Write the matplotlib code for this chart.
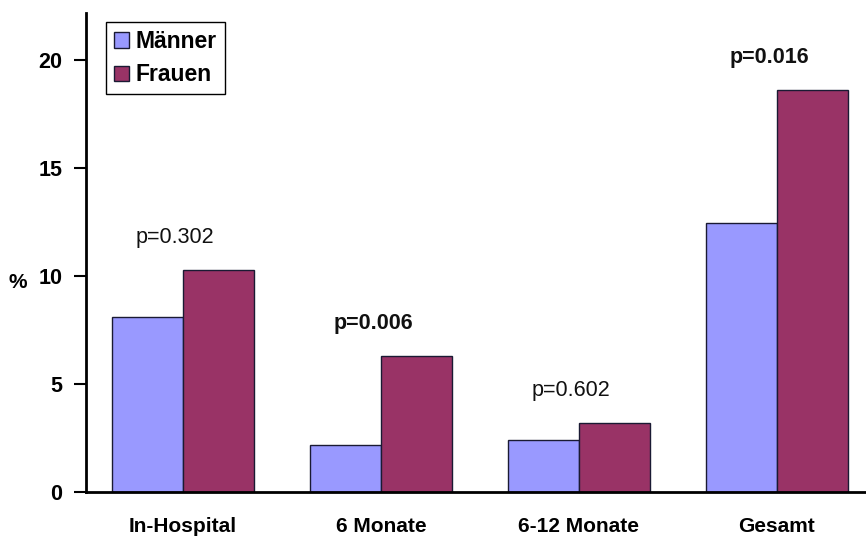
import matplotlib
matplotlib.use("Agg")
import matplotlib.pyplot as plt
import numpy as np

categories = ["In-Hospital", "6 Monate", "6-12 Monate", "Gesamt"]
maenner = [8.1, 2.2, 2.4, 12.45]
frauen = [10.3, 6.3, 3.2, 18.65]
p_labels = ["p=0.302", "p=0.006", "p=0.602", "p=0.016"]
p_bold = [False, True, False, True]
y_ticks = [0, 5, 10, 15, 20]

plt.rcParams["font.family"] = ["Liberation Sans", "DejaVu Sans"]

fig = plt.figure(figsize=(8.66, 5.4), dpi=100)
ax = fig.add_axes([86 / 866, 48 / 540, 1 - 86 / 866, 479 / 540])

x = np.arange(len(categories))
w = 0.36
c_m = "#9999FF"
c_f = "#993366"
edge = "#1a1a33"

ax.bar(x - w / 2, maenner, width=w, color=c_m, edgecolor=edge, linewidth=1.0, label="Männer")
ax.bar(x + w / 2, frauen, width=w, color=c_f, edgecolor=edge, linewidth=1.0, label="Frauen")

for xi, top, txt, bold in zip(x, np.maximum(maenner, frauen), p_labels, p_bold):
    ax.text(xi - 0.04, top + 1.5, txt, ha="center", va="center", fontsize=15.5,
            fontweight="bold" if bold else "normal", color="#111111")

ax.set_xlim(-0.49, 3.45)
ax.set_ylim(0, 22.2)
ax.set_yticks(y_ticks)
ax.set_yticklabels([str(t) for t in y_ticks], fontsize=15.5, fontweight="bold")
ax.tick_params(axis="y", direction="out", length=9, width=1.5, pad=8)
ax.set_xticks(x)
ax.set_xticklabels(categories, fontsize=15, fontweight="bold")
ax.tick_params(axis="x", length=0, pad=18)

for s in ["top", "right"]:
    ax.spines[s].set_visible(False)
ax.spines["left"].set_linewidth(2)
ax.spines["bottom"].set_linewidth(2)

fig.text(18 / 866, 1 - 283 / 540, "%", fontsize=15, fontweight="bold", ha="center", va="center")

leg = ax.legend(loc="upper left", bbox_to_anchor=(106 / 866, 1 - 22 / 540),
                bbox_transform=fig.transFigure, borderaxespad=0,
                prop={"size": 16.5, "weight": "bold"}, handlelength=0.65, handleheight=0.65,
                handletextpad=0.3, labelspacing=0.45, borderpad=0.35, fancybox=False,
                framealpha=1, edgecolor="black")
leg.get_frame().set_linewidth(1.0)

fig.savefig("out.png", dpi=100)
